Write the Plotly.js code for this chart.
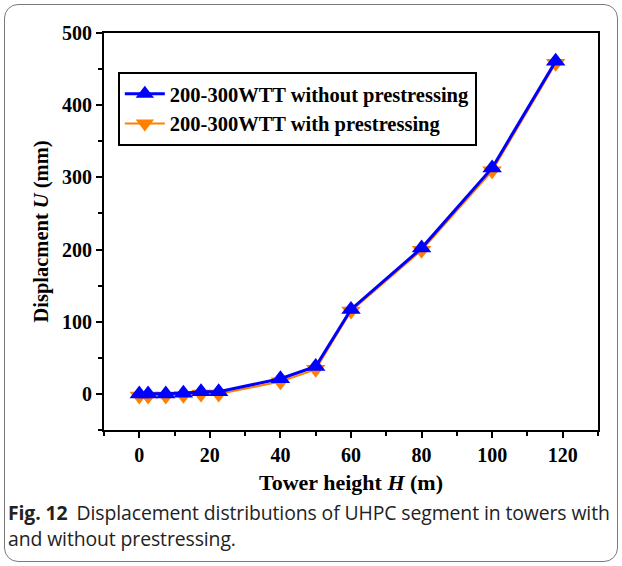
<!DOCTYPE html>
<html><head><meta charset="utf-8">
<script src="https://cdn.plot.ly/plotly-3.0.1.min.js"></script>
<style>
html,body{margin:0;padding:0;background:#fff;}
#frame{position:absolute;left:4px;top:4px;width:612px;height:556px;border:1px solid #7a7a7a;border-radius:14px;}
#plot{position:absolute;left:0;top:0;width:622px;height:566px;}
#cap{position:absolute;left:8px;top:500px;width:614px;font-family:"Open Sans","Noto Sans",sans-serif;font-size:19.4px;line-height:26px;color:#222;letter-spacing:-0.1px;white-space:nowrap;}
#cap b{margin-right:9px;}
</style></head>
<body>
<div id="frame"></div>
<div id="plot"></div>
<div id="cap"><b>Fig. 12</b><span>Displacement distributions of UHPC segment in towers with</span><br><span>and without prestressing.</span></div>
<script>
const heights = [0, 2.5, 7.5, 12.5, 17.5, 22.5, 40, 50, 60, 80, 100, 118];
const withoutPrestress = [0, 0, 0, 1, 3, 3, 21, 38, 117, 202, 313, 461];
const withPrestress = [-3, -3, -3, -2, 0, 0, 17, 34, 115, 199, 309, 458];
const seriesNames = ['200-300WTT without prestressing', '200-300WTT with prestressing'];
const xTicks = [0, 20, 40, 60, 80, 100, 120];
const yTicks = [0, 100, 200, 300, 400, 500];

const serif = 'Liberation Serif, Times New Roman, serif';
const traces = [
  {x: heights, y: withPrestress, name: seriesNames[1], mode: 'lines+markers',
   line: {color: '#FF8000', width: 2}, marker: {symbol: 'triangle-down', size: 17, color: '#FF8000'}},
  {x: heights, y: withoutPrestress, name: seriesNames[0], mode: 'lines+markers',
   line: {color: '#0000FF', width: 3}, marker: {symbol: 'triangle-up', size: 17, color: '#0000FF'}}
];
const axisCommon = {
  showline: true, linecolor: '#000', linewidth: 2, mirror: true,
  ticks: 'outside', ticklen: 6, tickwidth: 2, tickcolor: '#000',
  showgrid: false, zeroline: false,
  tickfont: {family: serif, size: 20, color: '#000', weight: 'bold'}
};
const layout = {
  width: 622, height: 566,
  margin: {l: 104, r: 24, t: 33, b: 136},
  paper_bgcolor: 'rgba(0,0,0,0)', plot_bgcolor: 'rgba(0,0,0,0)',
  showlegend: true,
  legend: {x: 0.028, y: 0.902, xanchor: 'left', yanchor: 'top', traceorder: 'reversed',
    bordercolor: '#000', borderwidth: 2, bgcolor: '#fff', itemwidth: 40,
    font: {family: serif, size: 20.5, color: '#000', weight: 'bold'}, tracegroupgap: 0},
  xaxis: Object.assign({}, axisCommon, {range: [-10, 130], tickvals: xTicks,
    minor: {dtick: 10, ticklen: 4, tickwidth: 2, tickcolor: '#000', ticks: 'outside', showgrid: false},
    title: {text: 'Tower height <i>H</i> (m)', standoff: 10, font: {family: serif, size: 22, color: '#000', weight: 'bold'}}}),
  yaxis: Object.assign({}, axisCommon, {range: [-50, 500], tickvals: yTicks,
    minor: {dtick: 50, ticklen: 4, tickwidth: 2, tickcolor: '#000', ticks: 'outside', showgrid: false},
    title: {text: 'Displacment <i>U</i> (mm)', standoff: 8, font: {family: serif, size: 20.5, color: '#000', weight: 'bold'}}})
};
Plotly.newPlot('plot', traces, layout, {displayModeBar: false, staticPlot: true});
</script>
</body></html>
